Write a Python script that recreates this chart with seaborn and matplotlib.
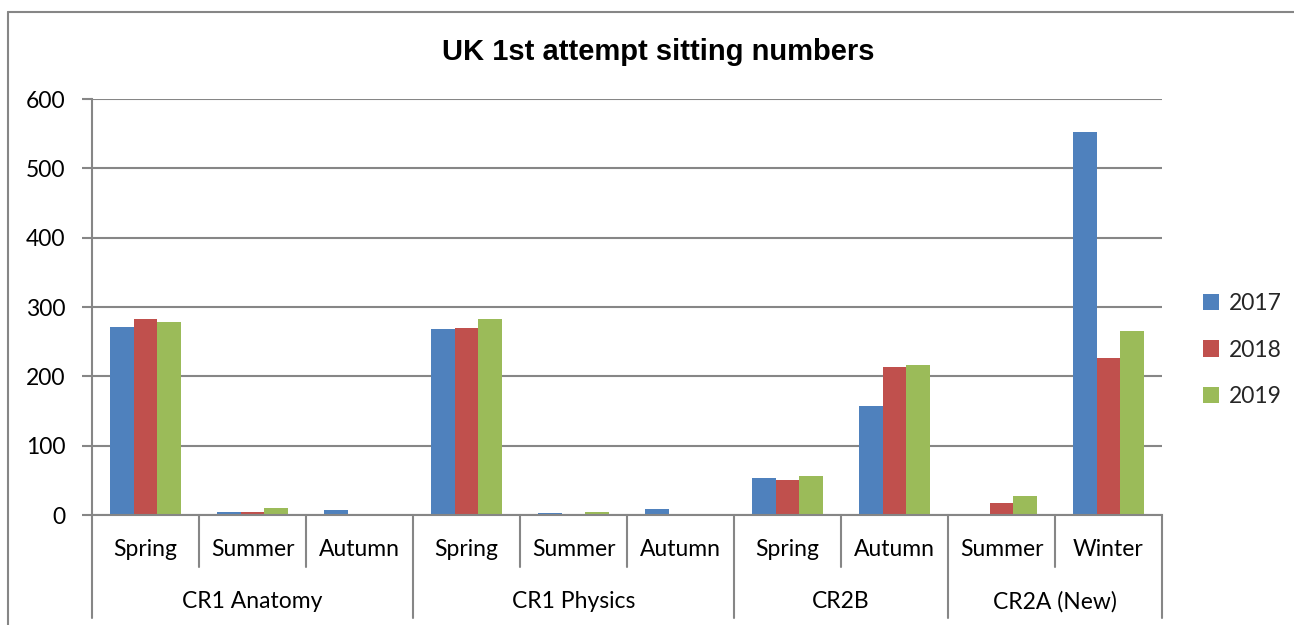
import pandas as pd
import matplotlib.pyplot as plt
import matplotlib.transforms as mtransforms
from matplotlib.lines import Line2D
import seaborn as sns

# Data
groups = ['CR1 Anatomy', 'CR1 Physics', 'CR2B', 'CR2A (New)']
group_sessions = [
    ['Spring', 'Summer', 'Autumn'],
    ['Spring', 'Summer', 'Autumn'],
    ['Spring', 'Autumn'],
    ['Summer', 'Winter'],
]
years = ['2017', '2018', '2019']
vals_2017 = [271, 5, 7, 268, 3, 8, 53, 157, 0, 553]
vals_2018 = [282, 5, 0, 270, 1, 0, 51, 213, 18, 227]
vals_2019 = [278, 10, 0, 283, 5, 0, 56, 217, 27, 265]

BLUE, RED, GREEN = '#4F81BD', '#C0504D', '#9BBB59'
GRID = '#868686'
FS = 16.5

sns.set_theme(style='white')
plt.rcParams['font.family'] = ['Lato', 'DejaVu Sans']

# long-form table
cats, seasons = [], []
for g, ss in zip(groups, group_sessions):
    for s in ss:
        cats.append(f'{g}|{s}')
        seasons.append(s)
rows = []
for yr, vals in zip(years, [vals_2017, vals_2018, vals_2019]):
    for c, v in zip(cats, vals):
        rows.append({'cat': c, 'year': yr, 'value': v})
df = pd.DataFrame(rows)

fig = plt.figure(figsize=(12.94, 6.25), dpi=100)
ax = fig.add_axes([92 / 1294, 1 - 515 / 625, (1162 - 92) / 1294, 416 / 625])

sns.barplot(data=df, x='cat', y='value', hue='year', order=cats,
            palette=[BLUE, RED, GREEN], saturation=1, width=0.67, ax=ax,
            legend=True, edgecolor='none', linewidth=0)

ax.set_xlim(-0.5, len(cats) - 0.5)
ax.set_ylim(0, 600)
ax.set_yticks(range(0, 601, 100))
ax.set_xticks([])
ax.set_xlabel('')
ax.set_ylabel('')
ax.yaxis.grid(True, color=GRID, linewidth=1.5)
ax.set_axisbelow(True)
for side in ['top', 'right']:
    ax.spines[side].set_visible(False)
for side in ['left', 'bottom']:
    ax.spines[side].set_color(GRID)
    ax.spines[side].set_linewidth(1.5)
ax.tick_params(axis='y', which='both', left=True, length=7, width=1.5,
               color=GRID, labelsize=FS, pad=12, labelcolor='black')

# multi-level category axis
trans = mtransforms.blended_transform_factory(ax.transData, ax.transAxes)
short_y = (515 - 567) / 416
long_y = (515 - 618) / 416
bounds = [-0.5]
pos = -0.5
for ss in group_sessions:
    pos += len(ss)
    bounds.append(pos)
for i in range(len(cats) + 1):
    x = i - 0.5
    y_end = long_y if x in bounds else short_y
    ax.add_line(Line2D([x, x], [0, y_end], transform=trans, color=GRID,
                       linewidth=1.5, clip_on=False))
for i, s in enumerate(seasons):
    ax.text(i, (515 - 550) / 416, s, transform=trans, ha='center',
            va='center', fontsize=FS, color='black')
start = 0
for g, ss in zip(groups, group_sessions):
    mid = start + (len(ss) - 1) / 2
    ax.text(mid, (515 - 602) / 416, g, transform=trans, ha='center',
            va='center', fontsize=FS, color='black')
    start += len(ss)

# legend on the right
handles, labels = ax.get_legend_handles_labels()
ax.legend_.remove()
fig.legend(handles, labels, loc='center left',
           bbox_to_anchor=(1182 / 1294, 1 - 350 / 625), frameon=False,
           fontsize=FS, handlelength=0.7, handleheight=0.7,
           handletextpad=0.45, labelspacing=1.1)

# title
fig.text(658 / 1294, 1 - 52 / 625, 'UK 1st attempt sitting numbers',
         ha='center', va='center', fontsize=21, fontweight='bold',
         color='black', family=['Liberation Sans', 'DejaVu Sans'])

# chart border (left and top edges visible)
bx, by = 8 / 1294, 1 - 12 / 625
fig.add_artist(Line2D([bx, bx], [0, by], transform=fig.transFigure,
                      color=GRID, linewidth=1.5))
fig.add_artist(Line2D([bx, 1], [by, by], transform=fig.transFigure,
                      color=GRID, linewidth=1.5))

fig.savefig('out.png', dpi=100)
